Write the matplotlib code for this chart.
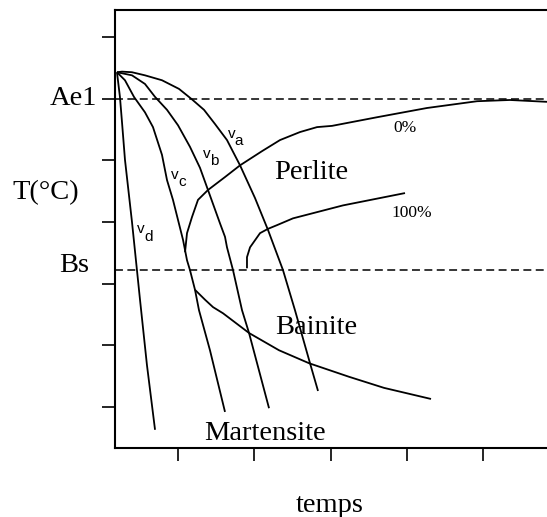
import matplotlib
matplotlib.use('Agg')
import matplotlib.pyplot as plt

# diagramme TRC schematique : temps (unites arbitraires) / temperature (degC arbitraires)
Ae1 = 600
Bs = 322

# courbes de refroidissement
va_t = [0.200, 0.266, 0.397, 0.567, 0.790, 1.013, 1.183, 1.341, 1.485, 1.642, 1.721, 1.813, 2.009, 2.180, 2.376, 2.533, 2.730, 2.835]
va_T = [643, 644, 643, 638, 630, 616, 599, 582, 559, 533, 514, 492, 439, 387, 322, 257, 171, 126]

vb_t = [0.200, 0.397, 0.567, 0.699, 0.856, 1.000, 1.157, 1.288, 1.393, 1.550, 1.616, 1.642, 1.721, 1.839, 1.931, 2.193]
vb_T = [643, 638, 624, 603, 582, 557, 522, 488, 452, 398, 376, 359, 322, 257, 220, 98]

vc_t = [0.200, 0.305, 0.423, 0.567, 0.672, 0.790, 0.856, 0.934, 1.066, 1.118, 1.157, 1.223, 1.275, 1.419, 1.616]
vc_T = [643, 630, 603, 578, 554, 509, 468, 436, 371, 338, 322, 290, 257, 192, 92]

vd_t = [0.200, 0.239, 0.266, 0.305, 0.397, 0.502, 0.593, 0.699]
vd_T = [643, 603, 562, 501, 400, 274, 168, 63]

# debut de transformation perlitique (0%)
p0_t = [1.092, 1.118, 1.183, 1.262, 1.393, 1.616, 1.813, 2.101, 2.337, 2.599, 2.822, 3.018, 3.608, 4.263, 4.919, 5.351, 5.836]
p0_T = [351, 382, 408, 436, 452, 473, 492, 515, 533, 546, 554, 556, 570, 585, 596, 598, 595]

# fin de transformation perlitique (100%)
p100_t = [1.904, 1.904, 1.944, 2.075, 2.180, 2.298, 2.507, 3.162, 3.975]
p100_T = [325, 343, 359, 382, 389, 395, 406, 427, 447]

# debut de transformation bainitique
bai_t = [1.223, 1.354, 1.459, 1.590, 1.931, 2.324, 2.717, 3.241, 3.700, 4.316]
bai_T = [290, 274, 262, 252, 220, 192, 171, 149, 131, 113]

xticks = [1, 2, 3, 4, 5]
yticks = [100, 200, 300, 400, 500, 600, 700]

serif = 'Liberation Serif'
sans = 'Liberation Sans'

fig = plt.figure(figsize=(5.47, 5.17), dpi=100)
ax = fig.add_axes([0.2102, 0.1335, 0.7898, 0.8472])

lw = 1.3
for t, T in [(va_t, va_T), (vb_t, vb_T), (vc_t, vc_T), (vd_t, vd_T),
             (p0_t, p0_T), (p100_t, p100_T), (bai_t, bai_T)]:
    ax.plot(t, T, color='black', lw=lw, solid_capstyle='butt',
            solid_joinstyle='round', clip_on=False)

for lvl in [Ae1, Bs]:
    ax.axhline(lvl, color='black', lw=1.1, dashes=(5.2, 2.9))

ax.set_xlim(0.174, 5.836)
ax.set_ylim(33.5, 744)
ax.set_xticks(xticks)
ax.set_yticks(yticks)
ax.set_xticklabels([])
ax.set_yticklabels([])
ax.tick_params(direction='out', length=9.4, width=1.2, color='black')
ax.spines['right'].set_visible(False)
for s in ['left', 'bottom', 'top']:
    ax.spines[s].set_linewidth(1.5)

# libelles
big = 20.5
ax.text(-0.055, Ae1, 'Ae1', family=serif, fontsize=big, ha='right', va='center')
ax.text(-0.16, Bs + 8, 'Bs', family=serif, fontsize=big, ha='right', va='center')
ax.text(-0.30, 448, 'T(\u00b0C)', family=serif, fontsize=big, ha='right', va='center')
ax.text(2.99, -60, 'temps', family=serif, fontsize=big, ha='center', va='center')

ax.text(2.743, 481, 'Perlite', family=serif, fontsize=big, ha='center', va='center')
ax.text(2.809, 229, 'Bainite', family=serif, fontsize=big, ha='center', va='center')
ax.text(2.140, 57, 'Martensite', family=serif, fontsize=big, ha='center', va='center')

ax.text(3.975, 552, '0%', family=serif, fontsize=12.5, ha='center', va='center')
ax.text(4.067, 415, '100%', family=serif, fontsize=12.5, ha='center', va='center')


def vlabel(t, T, sub):
    ax.text(t, T, 'v', family=sans, fontsize=11, ha='center', va='baseline')
    ax.text(t + 0.10, T - 12, sub, family=sans, fontsize=11, ha='center', va='baseline')


vlabel(1.70, 537, 'a')
vlabel(1.38, 504, 'b')
vlabel(0.96, 470, 'c')
vlabel(0.51, 382, 'd')

fig.savefig('out.png', dpi=100)
